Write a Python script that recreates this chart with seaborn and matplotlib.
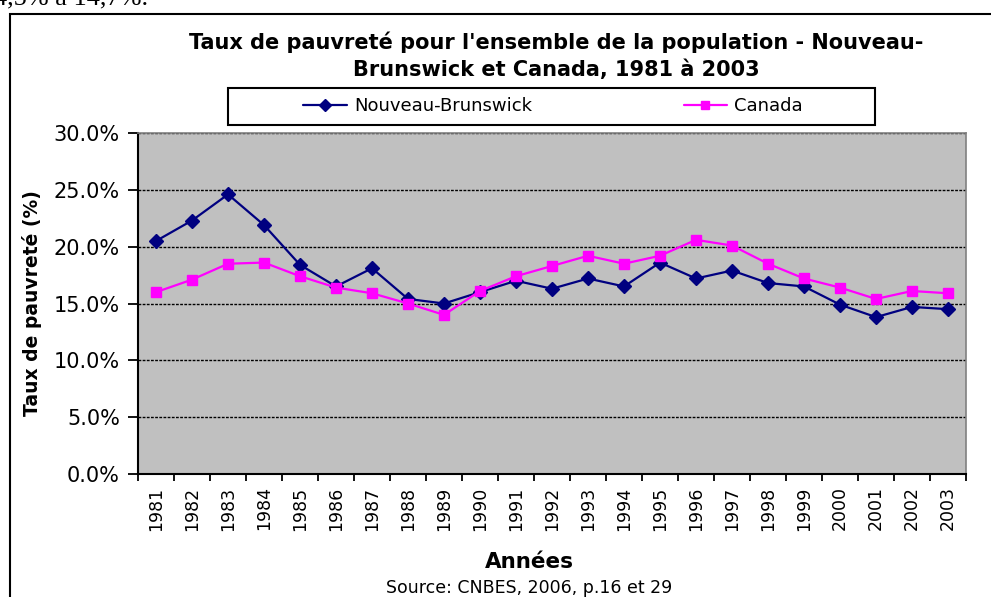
import matplotlib
matplotlib.use("Agg")
import matplotlib.pyplot as plt
import pandas as pd
import seaborn as sns
from matplotlib.patches import Rectangle
from matplotlib.lines import Line2D
from matplotlib.ticker import FixedLocator, PercentFormatter, NullFormatter

# ---- data ----
years = ["1981", "1982", "1983", "1984", "1985", "1986", "1987", "1988",
         "1989", "1990", "1991", "1992", "1993", "1994", "1995", "1996",
         "1997", "1998", "1999", "2000", "2001", "2002", "2003"]
nb = [20.5, 22.3, 24.6, 21.9, 18.4, 16.5, 18.1, 15.4, 15.0, 16.0, 17.0, 16.3,
      17.2, 16.5, 18.6, 17.2, 17.9, 16.8, 16.5, 14.9, 13.8, 14.7, 14.5]
canada = [16.0, 17.1, 18.5, 18.6, 17.4, 16.4, 15.9, 15.0, 14.0, 16.1, 17.4, 18.3,
          19.2, 18.5, 19.2, 20.6, 20.1, 18.5, 17.2, 16.4, 15.4, 16.1, 15.9]
series_names = ["Nouveau-Brunswick", "Canada"]
yticks = [0, 5, 10, 15, 20, 25, 30]

title_lines = ["Taux de pauvreté pour l'ensemble de la population - Nouveau-",
               "Brunswick et Canada, 1981 à 2003"]
ylabel = "Taux de pauvreté (%)"
xlabel = "Années"
source = "Source: CNBES, 2006, p.16 et 29"
doc_text = "4,5% à 14,7%."

colors = {"Nouveau-Brunswick": "#000080", "Canada": "#FF00FF"}
markers = {"Nouveau-Brunswick": "D", "Canada": "s"}

sns.set_theme(style="white")
plt.rcParams["font.family"] = ["DejaVu Sans"]
plt.rcParams["text.color"] = "black"
plt.rcParams["axes.labelcolor"] = "black"
plt.rcParams["xtick.color"] = "black"
plt.rcParams["ytick.color"] = "black"

W, H = 991, 597
fig = plt.figure(figsize=(W / 100, H / 100), dpi=100)
fig.patch.set_facecolor("white")

def fx(px):
    return px / W

def fy(py):
    return 1 - py / H

# outer chart frame
fig.add_artist(Rectangle((fx(10), -0.2), 1.2, fy(14) + 0.2,
                         transform=fig.transFigure, fill=False,
                         ec="black", lw=1.5))
# clipped text from surrounding document
fig.text(fx(-6), fy(4), doc_text, family="Liberation Serif",
         fontsize=19, va="baseline", ha="left", color="black")

ax = fig.add_axes([fx(138), fy(474), (966 - 138) / W, (474 - 133) / H])
ax.set_facecolor("#C0C0C0")

df = pd.DataFrame({
    "Année": years * 2,
    "Taux": nb + canada,
    "Série": [series_names[0]] * len(years) + [series_names[1]] * len(years),
})
sns.lineplot(data=df, x="Année", y="Taux", hue="Série", style="Série",
             palette=colors, markers=markers, dashes=False, lw=1.6,
             markersize=7, legend=False, ax=ax, sort=False)
for ln in ax.lines:
    ln.set_markeredgecolor(ln.get_color())
    ln.set_markeredgewidth(1.0)
    ln.set_zorder(3)

ax.set_xlim(-0.5, len(years) - 0.5)
ax.set_ylim(0, 30)
ax.yaxis.set_major_locator(FixedLocator(yticks))
ax.yaxis.set_major_formatter(PercentFormatter(xmax=100, decimals=1))
ax.xaxis.set_major_locator(FixedLocator(range(len(years))))
ax.set_xticklabels(years, rotation=90)
ax.xaxis.set_minor_locator(FixedLocator([i - 0.5 for i in range(len(years) + 1)]))
ax.xaxis.set_minor_formatter(NullFormatter())
ax.tick_params(axis="x", which="major", length=0, pad=9, labelsize=12.5,
               colors="black", labelcolor="black")
ax.tick_params(axis="x", which="minor", length=5, width=1.3, direction="out",
               color="black", bottom=True)
ax.tick_params(axis="y", which="major", length=7, width=1.3, direction="out",
               left=True, labelsize=15, pad=6, colors="black", labelcolor="black")

ax.set_axisbelow(True)
ax.yaxis.grid(True, color="black", linestyle=(0, (2, 1)), lw=1.0)
ax.xaxis.grid(False)
for s in ["left", "bottom"]:
    ax.spines[s].set_color("black")
    ax.spines[s].set_linewidth(1.5)
for s in ["top", "right"]:
    ax.spines[s].set_color("#808080")
    ax.spines[s].set_linewidth(1.2)

ax.set_xlabel("")
ax.set_ylabel(ylabel, fontsize=13.5, fontweight="bold", color="black")
ax.yaxis.set_label_coords((42 - 138) / 828, 0.5)

fig.text(fx(529), fy(562), xlabel, ha="center", va="center", fontsize=15.5,
         fontweight="bold", color="black")
fig.text(fx(529), fy(588), source, ha="center", va="center", fontsize=12.5,
         color="black")

fig.text(fx(556), fy(42), title_lines[0], ha="center", va="center",
         fontsize=15, fontweight="bold", color="black")
fig.text(fx(556), fy(70), title_lines[1], ha="center", va="center",
         fontsize=15, fontweight="bold", color="black")

# legend box
fig.add_artist(Rectangle((fx(228), fy(125)), (875 - 228) / W, 37 / H,
                         transform=fig.transFigure, fill=True, fc="white",
                         ec="black", lw=1.5))
handles = [Line2D([], [], color=colors[n], marker=markers[n], lw=1.6,
                  markersize=6, markeredgecolor=colors[n]) for n in series_names]
leg = fig.legend(handles, series_names, loc="center", ncol=2, frameon=False,
                 bbox_to_anchor=(fx(553), fy(106.5)), fontsize=13,
                 columnspacing=8.4, handlelength=2.4, handletextpad=0.4,
                 borderpad=0, borderaxespad=0)
for t in leg.get_texts():
    t.set_color("black")

fig.savefig("out.png", dpi=100)
